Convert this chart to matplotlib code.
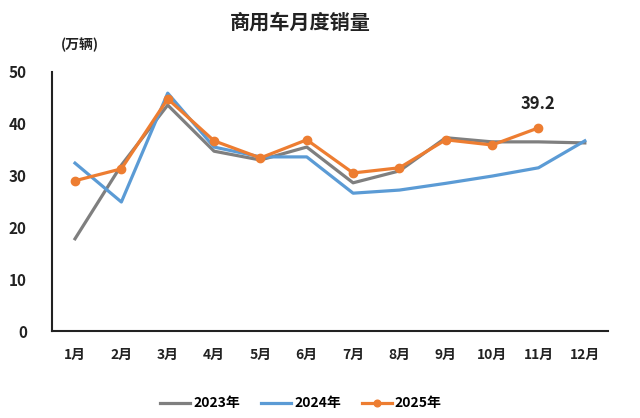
import matplotlib
matplotlib.use("Agg")
import matplotlib.pyplot as plt

plt.rcParams['font.family'] = ['Noto Sans CJK SC', 'DejaVu Sans']

months = ["1月", "2月", "3月", "4月", "5月", "6月", "7月", "8月", "9月", "10月", "11月", "12月"]
sales_2023 = [17.8, 32.0, 43.6, 34.7, 33.0, 35.5, 28.6, 30.9, 37.3, 36.5, 36.5, 36.3]
sales_2024 = [32.4, 24.9, 45.9, 35.5, 33.6, 33.6, 26.6, 27.2, 28.5, 29.9, 31.5, 36.7]
sales_2025 = [29.0, 31.3, 44.8, 36.7, 33.4, 36.9, 30.5, 31.5, 36.9, 35.9, 39.2]
yticks = [0, 10, 20, 30, 40, 50]

fig = plt.figure(figsize=(6.4, 4.18), dpi=100)
ax = fig.add_axes([0.081, 0.208, 0.869, 0.62])

x = list(range(len(months)))
ax.plot(x, sales_2023, color="#7f7f7f", lw=2.3, label="2023年", solid_joinstyle="round")
ax.plot(x, sales_2024, color="#5b9bd5", lw=2.3, label="2024年", solid_joinstyle="round")
ax.plot(x[:len(sales_2025)], sales_2025, color="#ed7d31", lw=2.3, marker="o", ms=6,
        label="2025年", solid_joinstyle="round")

ax.annotate(f"{sales_2025[-1]}", xy=(len(sales_2025) - 1, sales_2025[-1]),
            xytext=(0, 11), textcoords="offset points", ha="center", va="bottom",
            fontsize=12, fontweight="bold", color="#222222")

ax.set_xlim(-0.5, 11.5)
ax.set_ylim(0, 50)
ax.set_xticks(x)
ax.set_xticklabels(months, fontsize=10, fontweight="bold", color="#222222")
ax.set_yticks(yticks)
ax.set_yticklabels([str(v) for v in yticks], fontsize=11, fontweight="bold", color="#222222")
ax.tick_params(length=0, pad=12)
ax.tick_params(axis="y", pad=18)
for s in ["top", "right"]:
    ax.spines[s].set_visible(False)
for s in ["left", "bottom"]:
    ax.spines[s].set_color("#222222")
    ax.spines[s].set_linewidth(1.5)

fig.text(0.47, 0.948, "商用车月度销量", ha="center", va="center", fontsize=14.5, fontweight="bold", color="#222222")
fig.text(0.125, 0.892, "(万辆)", ha="center", va="center", fontsize=10, fontweight="bold", color="#222222")

leg = fig.legend(loc="center", bbox_to_anchor=(0.47, 0.035), ncol=3, frameon=False,
                 prop={"size": 10, "weight": "bold"}, handlelength=2.2, handletextpad=0.2,
                 columnspacing=1.5, markerscale=0.8)

fig.savefig("out.png", dpi=100, facecolor="white")
